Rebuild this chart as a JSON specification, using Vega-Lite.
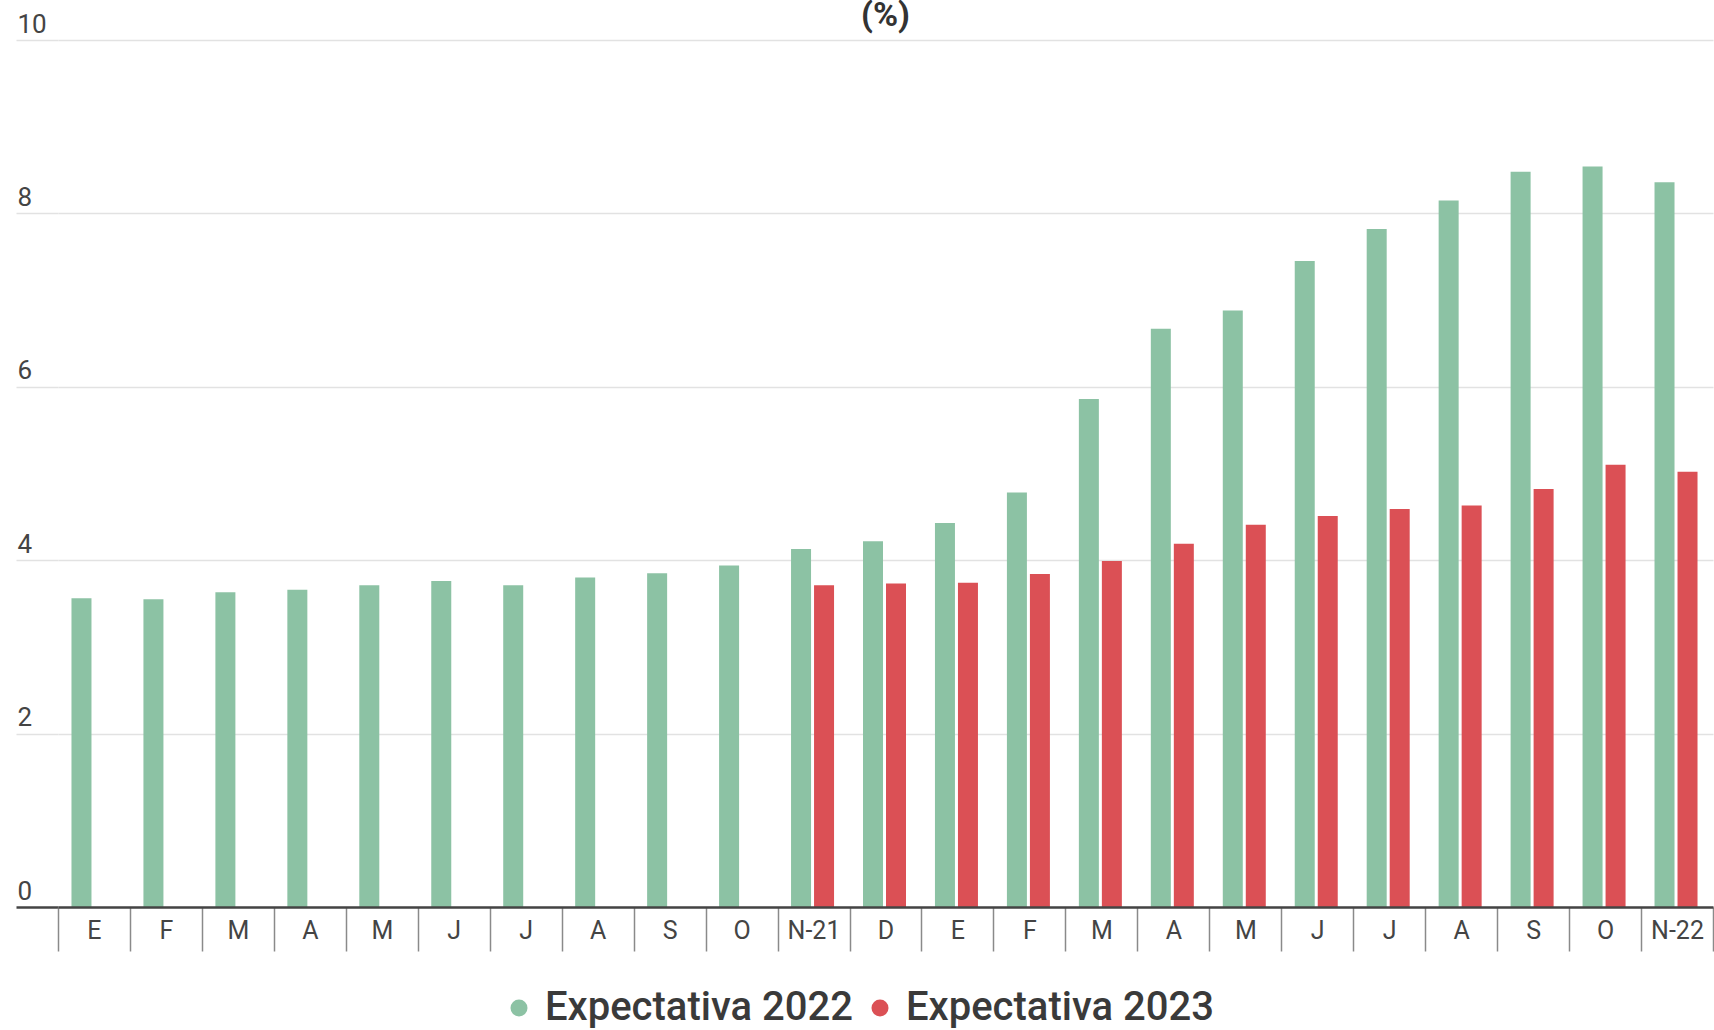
{
  "$schema": "https://vega.github.io/schema/vega-lite/v6.json",
  "width": 1655,
  "height": 867,
  "autosize": {"type": "none"},
  "padding": {"left": 58, "top": 40, "right": 1, "bottom": 123},
  "background": "white",
  "title": {
    "text": "(%)",
    "font": "Roboto",
    "fontSize": 34,
    "fontWeight": "bold",
    "color": "#333333",
    "anchor": "middle",
    "offset": 8,
    "dy": 30
  },
  "data": {
    "values": [
      {"mes": "E", "g": 3.56, "r": null},
      {"mes": "F", "g": 3.55, "r": null},
      {"mes": "M", "g": 3.63, "r": null},
      {"mes": "A", "g": 3.66, "r": null},
      {"mes": "M\u200b", "g": 3.71, "r": null},
      {"mes": "J", "g": 3.76, "r": null},
      {"mes": "J\u200b", "g": 3.71, "r": null},
      {"mes": "A\u200b", "g": 3.80, "r": null},
      {"mes": "S", "g": 3.85, "r": null},
      {"mes": "O", "g": 3.94, "r": null},
      {"mes": "N-21", "g": 4.13, "r": 3.71},
      {"mes": "D", "g": 4.22, "r": 3.73},
      {"mes": "E\u200b", "g": 4.43, "r": 3.74},
      {"mes": "F\u200b", "g": 4.78, "r": 3.84},
      {"mes": "M\u200b\u200b", "g": 5.86, "r": 3.99},
      {"mes": "A\u200b\u200b", "g": 6.67, "r": 4.19},
      {"mes": "M\u200b\u200b\u200b", "g": 6.88, "r": 4.41},
      {"mes": "J\u200b\u200b", "g": 7.45, "r": 4.51},
      {"mes": "J\u200b\u200b\u200b", "g": 7.82, "r": 4.59},
      {"mes": "A\u200b\u200b\u200b", "g": 8.15, "r": 4.63},
      {"mes": "S\u200b", "g": 8.48, "r": 4.82},
      {"mes": "O\u200b", "g": 8.54, "r": 5.10},
      {"mes": "N-22", "g": 8.36, "r": 5.02}
    ]
  },
  "encoding": {
    "x": {
      "field": "mes",
      "type": "nominal",
      "sort": ["E", "F", "M", "A", "M\u200b", "J", "J\u200b", "A\u200b", "S", "O", "N-21", "D", "E\u200b", "F\u200b", "M\u200b\u200b", "A\u200b\u200b", "M\u200b\u200b\u200b", "J\u200b\u200b", "J\u200b\u200b\u200b", "A\u200b\u200b\u200b", "S\u200b", "O\u200b", "N-22"],
      "scale": {"paddingInner": 0, "paddingOuter": 0},
      "axis": {
        "title": null,
        "grid": false,
        "domainColor": "#444444",
        "domainWidth": 2.5,
        "tickBand": "extent",
        "tickSize": 44,
        "tickColor": "#8a8a8a",
        "tickWidth": 1.5,
        "labelFont": "Roboto",
        "labelFontSize": 25,
        "labelColor": "#444444",
        "labelAngle": 0,
        "labelBaseline": "alphabetic",
        "labelPadding": -12.7,
        "zindex": 1
      }
    }
  },
  "layer": [
    {
      "mark": {"type": "bar", "width": 20, "xOffset": -12.5},
      "encoding": {
        "y": {
          "field": "g",
          "type": "quantitative",
          "scale": {"domain": [0, 10], "nice": false},
          "axis": {
            "title": null,
            "domain": false,
            "ticks": true,
            "tickSize": 42,
            "tickColor": {"condition": {"test": "datum.value === 0", "value": "#444444"}, "value": "#e2e2e2"},
            "tickWidth": {"condition": {"test": "datum.value === 0", "value": 2.5}, "value": 1.5},
            "values": [0, 2, 4, 6, 8, 10],
            "format": "d",
            "grid": true,
            "gridColor": "#e2e2e2",
            "gridWidth": 1.5,
            "labelAlign": "left",
            "labelBaseline": "alphabetic",
            "labelPadding": -1,
            "labelOffset": -8,
            "labelFont": "Roboto",
            "labelFontSize": 26,
            "labelColor": "#444444"
          }
        },
        "color": {
          "datum": "Expectativa 2022",
          "type": "nominal",
          "scale": {"domain": ["Expectativa 2022", "Expectativa 2023"], "range": ["#8CC2A4", "#DB5055"]},
          "legend": {
            "title": null,
            "orient": "none",
            "legendX": 441,
            "legendY": 948,
            "direction": "horizontal",
            "symbolType": "circle",
            "symbolSize": 289,
            "symbolStrokeWidth": 0,
            "symbolOpacity": 1,
            "labelFont": "Roboto",
            "labelFontSize": 40,
            "labelFontWeight": 500,
            "labelColor": "#3a3a3a",
            "labelOffset": 6,
            "labelLimit": 600,
            "columnPadding": 7
          }
        }
      }
    },
    {
      "mark": {"type": "bar", "width": 20, "xOffset": 10.5},
      "encoding": {
        "y": {"field": "r", "type": "quantitative"},
        "color": {"datum": "Expectativa 2023", "type": "nominal"}
      }
    }
  ],
  "config": {"view": {"stroke": null}}
}
